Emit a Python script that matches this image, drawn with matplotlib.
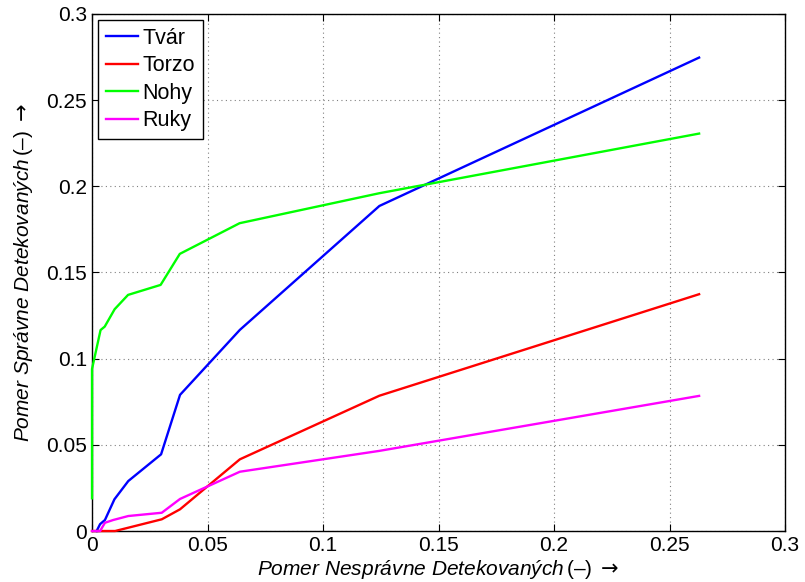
import matplotlib.pyplot as plt
import numpy as np

plt.rcParams['font.family'] = ['Liberation Sans', 'DejaVu Sans']
plt.rcParams['mathtext.fontset'] = 'custom'
plt.rcParams['mathtext.it'] = 'Liberation Sans:italic'
plt.rcParams['mathtext.rm'] = 'Liberation Sans'
plt.rcParams['mathtext.sf'] = 'DejaVu Sans'

# Tvar
x_tvar = np.array([0.002, 0.0035, 0.0056, 0.0097, 0.0157, 0.0299, 0.0381, 0.064, 0.1244, 0.2628])
y_tvar = np.array([0.0, 0.004, 0.0064, 0.0184, 0.029, 0.0445, 0.079, 0.1167, 0.1886, 0.2747])
# Torzo
x_torzo = np.array([0.0, 0.01, 0.0302, 0.0381, 0.064, 0.1244, 0.2628])
y_torzo = np.array([0.0, 0.0, 0.0068, 0.0126, 0.0416, 0.0785, 0.1374])
# Nohy
x_nohy = np.array([0.0, 0.0, 0.0037, 0.0055, 0.0098, 0.0156, 0.0297, 0.038, 0.0639, 0.1244, 0.2628])
y_nohy = np.array([0.019, 0.094, 0.1166, 0.1186, 0.1287, 0.137, 0.1428, 0.1608, 0.1786, 0.196, 0.2306])
# Ruky
x_ruky = np.array([0.0, 0.0035, 0.0056, 0.0092, 0.0157, 0.0302, 0.0381, 0.064, 0.1244, 0.2628])
y_ruky = np.array([0.0, 0.0, 0.0048, 0.0064, 0.0087, 0.0106, 0.0186, 0.0344, 0.0465, 0.0784])

ticks = [0, 0.05, 0.1, 0.15, 0.2, 0.25, 0.3]
tick_labels = ['0', '0.05', '0.1', '0.15', '0.2', '0.25', '0.3']

fig = plt.figure(figsize=(8.05, 5.82), dpi=100)
ax = fig.add_axes([0.1143, 0.0876, 0.8609, 0.8884])

ax.plot(x_tvar, y_tvar, color=(0, 0, 1), lw=1.7, label='Tvár', zorder=3, clip_on=False)
ax.plot(x_torzo, y_torzo, color=(1, 0, 0), lw=1.7, label='Torzo', zorder=3, clip_on=False)
ax.plot(x_nohy, y_nohy, color=(0, 1, 0), lw=1.7, label='Nohy', zorder=3, clip_on=False)
ax.plot(x_ruky, y_ruky, color=(1, 0, 1), lw=1.7, label='Ruky', zorder=3, clip_on=False)

ax.set_xlim(0, 0.3)
ax.set_ylim(0, 0.3)
ax.set_xticks(ticks)
ax.set_xticklabels(tick_labels)
ax.set_yticks(ticks)
ax.set_yticklabels(tick_labels)
ax.tick_params(direction='in', top=True, right=True, labelsize=15, length=5)
ax.grid(True, linestyle=(0, (1, 3)), color='#808080', linewidth=0.8)
for s in ax.spines.values():
    s.set_linewidth(1.0)

ax.set_xlabel(r'$\mathit{Pomer\ Nesprávne\ Detekovaných}\,$(–) $\mathsf{\rightarrow}$', fontsize=15, labelpad=2)
ax.set_ylabel(r'$\mathit{Pomer\ Správne\ Detekovaných}\,$(–) $\mathsf{\rightarrow}$', fontsize=15, labelpad=8)

leg = ax.legend(loc='upper left', fontsize=15.5, fancybox=False, framealpha=1,
                edgecolor='black', handlelength=1.5, handletextpad=0.2,
                labelspacing=0.3, borderpad=0.35, borderaxespad=0.3)
leg.get_frame().set_linewidth(1.0)
leg.set_zorder(5)

plt.savefig('out.png', dpi=100)
